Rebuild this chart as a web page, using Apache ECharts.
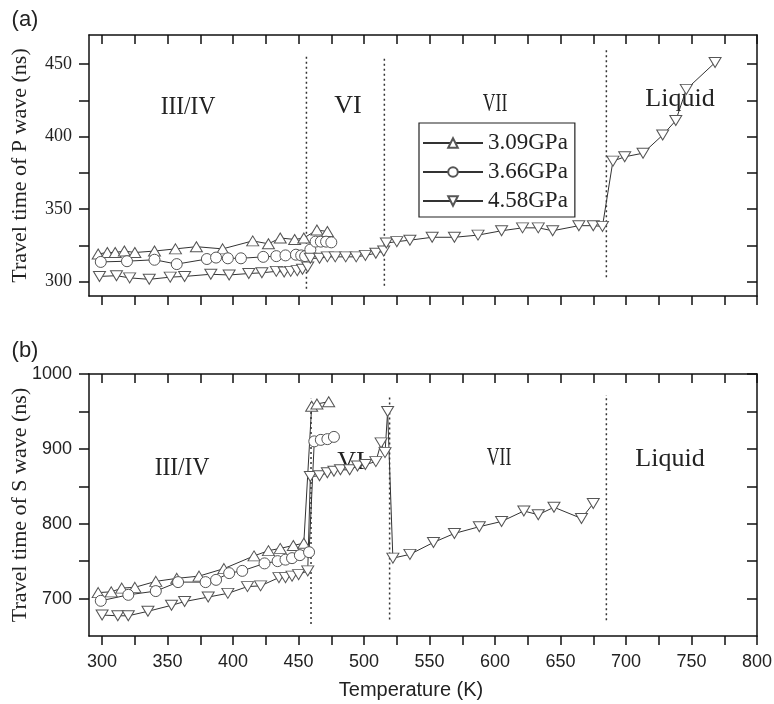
<!DOCTYPE html>
<html>
<head>
<meta charset="utf-8">
<script src="https://cdn.jsdelivr.net/npm/echarts@6.0.0/dist/echarts.min.js"></script>
<style>
  html, body { margin: 0; padding: 0; background: #fff; }
  #chart { width: 774px; height: 704px; }
</style>
</head>
<body>
<div id="chart"></div>
<script>
// ---- data ----
const seriesNames = ['3.09GPa', '3.66GPa', '4.58GPa'];

// (a) P wave travel time (ns) vs temperature (K)
const tP309 = [297, 304, 310, 317, 325, 340, 356, 372, 392, 415, 427, 436, 447, 454, 464, 472];
const vP309 = [319, 320, 320, 321, 320, 321, 322.5, 324, 322.5, 328, 326, 330, 329, 330, 335.5, 334.5];

const tP366 = [299, 319, 340, 357, 380, 387, 396, 406, 423, 433, 440, 448, 452, 455, 459, 463, 467, 471, 475];
const vP366 = [313.5, 314, 315, 312, 315.5, 316.5, 316, 316, 317, 317.5, 318, 318.5, 318, 317.5, 322, 327.5, 327.5, 327.5, 327];

const tP458 = [298, 311, 321, 336, 352, 363, 383, 397, 412, 422, 433, 439, 444, 449, 453, 457, 459, 466, 472, 478, 486, 494, 501, 509, 515, 517, 525, 535, 552, 569, 587, 605, 621, 633, 644, 664, 675, 682, 690, 699, 713, 728, 738, 746, 768];
const vP458 = [303.5, 304, 302.5, 301.5, 303, 303.5, 305, 304.5, 305.5, 306, 307, 306.5, 307, 307.5, 308.5, 310, 316, 316, 317, 317, 317, 317, 318, 319.5, 321, 326.5, 327.5, 328.5, 330.5, 330.5, 332, 335, 337, 337, 335, 338.5, 338.5, 338, 383, 386, 388.5, 401, 411, 432.5, 451];

// (b) S wave travel time (ns) vs temperature (K)
const tS309 = [297, 307, 315, 325, 341, 357, 374, 393, 416, 427, 436, 446, 454, 460, 464, 473];
const vS309 = [708, 709, 714, 715, 723, 727, 730, 740, 757, 764, 767, 771, 774, 957, 960, 963];

const tS366 = [299, 320, 341, 358, 379, 387, 397, 407, 424, 434, 440, 445, 451, 458, 462, 467, 472, 477];
const vS366 = [697, 705, 710, 722, 722, 725, 734, 737, 747, 750, 752, 754, 758, 762, 910, 912, 913, 916];

const tS458 = [300, 312, 320, 335, 353, 363, 381, 396, 411, 421, 435, 440, 445, 450, 457, 459, 466, 472, 477, 482, 489, 495, 501, 509, 513, 516, 518, 522, 535, 553, 569, 588, 605, 622, 633, 645, 666, 675];
const vS458 = [678, 677, 677, 683, 691, 696, 702, 707, 716, 717, 728, 728, 730, 732, 737, 863, 864, 868, 870, 872, 872, 877, 879, 883, 908, 895, 950, 754, 759, 775, 787, 796, 803, 817, 812, 822, 807, 827];

// phase boundaries (dotted lines): x position and [low, high] extent
const boundP = [456, 515.5, 685];
const spanP = [[295, 456], [297, 454], [303, 460]];
const boundS = [459.5, 519.5, 685];
const spanS = [[666, 967], [672, 972], [671, 972]];

// axis ticks and labels
const xTicks = [300, 325, 350, 375, 400, 425, 450, 475, 500, 525, 550, 575, 600, 625, 650, 675, 700, 725, 750, 775, 800];
const xLabels = [300, 350, 400, 450, 500, 550, 600, 650, 700, 750, 800];
const yTicksP = [300, 325, 350, 375, 400, 425, 450];
const yLabelsP = [300, 350, 400, 450];
const yTicksS = [700, 750, 800, 850, 900, 950, 1000];
const yLabelsS = [700, 800, 900, 1000];

const phaseNames = ['III/IV', 'VI', 'VII', 'Liquid'];

// ---- chart ----
const chart = echarts.init(document.getElementById('chart'));

const serif = 'Liberation Serif, Times New Roman, serif';
const sans = 'Liberation Sans, Arial, sans-serif';
const lineCol = '#333';
const markCol = '#555';

function pairs(t, v) {
  return t.map((x, i) => [x, v[i]]);
}

function plain(v) {
  return String(v);
}

function xAx(grid, pos, labels) {
  return {
    type: 'value', gridIndex: grid, position: pos, min: 290, max: 800,
    axisLine: { show: true, onZero: false, lineStyle: { color: '#111', width: 1.5 } },
    axisTick: { show: true, inside: pos === 'top', length: 9, customValues: xTicks, lineStyle: { color: '#111', width: 1.5 } },
    axisLabel: labels ? { show: true, customValues: xLabels, formatter: plain, fontFamily: sans, fontSize: 18, color: '#222', margin: 17 } : { show: false },
    splitLine: { show: false }
  };
}

function yAx(grid, pos, min, max, ticks, labels, font, name) {
  return {
    type: 'value', gridIndex: grid, position: pos, min: min, max: max,
    name: name || '', nameLocation: 'middle', nameGap: 58, nameMoveOverlap: false,
    nameTextStyle: { fontFamily: serif, fontSize: 22, color: '#222' },
    axisLine: { show: true, onZero: false, lineStyle: { color: '#111', width: 1.5 } },
    axisTick: { show: true, inside: pos === 'right', length: 10, customValues: ticks, lineStyle: { color: '#111', width: 1.5 } },
    axisLabel: labels ? { show: true, customValues: labels, formatter: plain, fontFamily: font, fontSize: 18, color: '#222', margin: 17 } : { show: false },
    splitLine: { show: false }
  };
}

const symbols = [
  { symbol: 'triangle', size: [12, 10], rotate: 0 },
  { symbol: 'circle', size: 11, rotate: 0 },
  { symbol: 'triangle', size: [12, 10], rotate: 180 }
];

function dataSeries(name, idx, data, axis) {
  return {
    name: name, type: 'line', xAxisIndex: axis, yAxisIndex: axis,
    data: data,
    symbol: symbols[idx].symbol, symbolSize: symbols[idx].size, symbolRotate: symbols[idx].rotate,
    showAllSymbol: true,
    itemStyle: { color: '#fff', borderColor: markCol, borderWidth: 1 },
    lineStyle: { color: lineCol, width: 1 },
    emphasis: { disabled: true },
    animation: false,
    z: 3
  };
}

function boundSeries(x, span, axis) {
  return {
    type: 'line', xAxisIndex: axis, yAxisIndex: axis,
    data: [[x, span[0]], [x, span[1]]],
    symbol: 'none', silent: true, animation: false,
    lineStyle: { color: '#333', width: 1.5, type: [2, 3] },
    z: 2
  };
}

const series = [
  dataSeries(seriesNames[0], 0, pairs(tP309, vP309), 0),
  dataSeries(seriesNames[1], 1, pairs(tP366, vP366), 0),
  dataSeries(seriesNames[2], 2, pairs(tP458, vP458), 0),
  dataSeries(seriesNames[0], 0, pairs(tS309, vS309), 2),
  dataSeries(seriesNames[1], 1, pairs(tS366, vS366), 2),
  dataSeries(seriesNames[2], 2, pairs(tS458, vS458), 2)
];
boundP.forEach((x, i) => series.push(boundSeries(x, spanP[i], 0)));
boundS.forEach((x, i) => series.push(boundSeries(x, spanS[i], 2)));

function label(text, x, y, size, font, sx) {
  return {
    type: 'text', x: x, y: y, scaleX: sx || 1, originX: 0, originY: 0,
    style: { text: text, fontFamily: font, fontSize: size, fill: '#222', textAlign: 'center', textVerticalAlign: 'middle' }
  };
}

const option = {
  backgroundColor: '#fff',
  animation: false,
  grid: [
    { left: 89, top: 35, width: 668, height: 261, outerBoundsMode: 'none' },
    { left: 89, top: 374, width: 668, height: 262, outerBoundsMode: 'none' }
  ],
  xAxis: [xAx(0, 'bottom', false), xAx(0, 'top', false), xAx(1, 'bottom', true), xAx(1, 'top', false)],
  yAxis: [
    yAx(0, 'left', 290, 470, yTicksP, yLabelsP, serif, 'Travel time of P wave (ns)'),
    yAx(0, 'right', 290, 470, yTicksP, null, serif),
    yAx(1, 'left', 650, 1000, yTicksS, yLabelsS, sans, 'Travel time of S wave (ns)'),
    yAx(1, 'right', 650, 1000, yTicksS, null, sans)
  ],
  legend: {
    data: seriesNames, orient: 'vertical', left: 419, top: 123,
    padding: [8, 7, 4, 3], itemWidth: 60, itemHeight: 12, itemGap: 5,
    borderColor: '#222', borderWidth: 1.2, selectedMode: false,
    textStyle: { fontFamily: serif, fontSize: 23, color: '#222', lineHeight: 24 }
  },
  graphic: [
    label('(a)', 25, 20, 22, sans),
    label('(b)', 25, 351, 22, sans),
    label('Temperature (K)', 411, 690, 20, sans),
    label(phaseNames[0], 188, 107, 26, serif, 0.9),
    label(phaseNames[1], 348, 106, 26, serif),
    label(phaseNames[2], 495, 104, 26, serif, 0.68),
    label(phaseNames[3], 680, 99, 26, serif),
    label(phaseNames[0], 182, 468, 26, serif, 0.9),
    label(phaseNames[1], 351, 462, 26, serif),
    label(phaseNames[2], 499, 458, 26, serif, 0.68),
    label(phaseNames[3], 670, 459, 26, serif)
  ],
  series: series
};

chart.setOption(option);
</script>
</body>
</html>
